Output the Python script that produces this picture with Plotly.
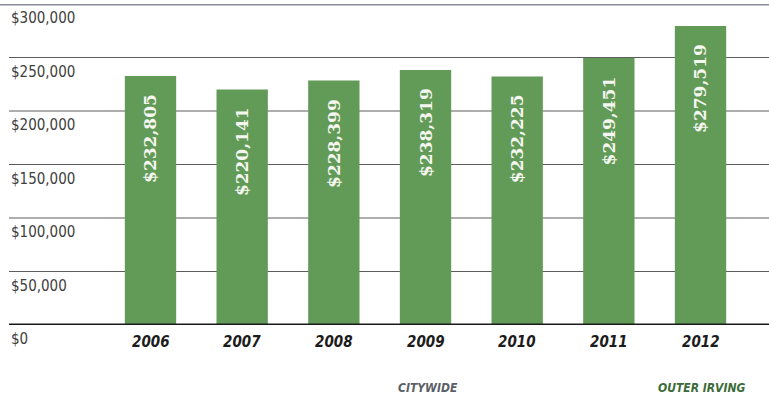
import plotly.graph_objects as go

# Median sale price by year
years = ["2006", "2007", "2008", "2009", "2010", "2011", "2012"]
prices = [232805, 220141, 228399, 238319, 232225, 249451, 279519]

y_ticks = [0, 50000, 100000, 150000, 200000, 250000, 300000]
y_tick_labels = ["$0", "$50,000", "$100,000", "$150,000", "$200,000", "$250,000", "$300,000"]

BAR_GREEN = "#629a57"
GRID = "#5c5c5c"
LABEL_FONT = "DejaVu Sans Condensed, Liberation Sans Narrow, Arial Narrow, sans-serif"

fig = go.Figure()

fig.add_trace(go.Bar(
    x=list(range(len(years))),
    y=prices,
    width=0.56,
    marker=dict(color=BAR_GREEN, line=dict(width=0)),
    hoverinfo="skip",
))

# Horizontal gridlines drawn beneath the bars
for v in y_ticks[1:-1]:
    fig.add_shape(type="line", xref="paper", yref="y", x0=0, x1=1, y0=v, y1=v,
                  line=dict(color=GRID, width=1), layer="below")
# Heavy top rule and baseline
fig.add_shape(type="line", xref="paper", yref="y", x0=-0.02, x1=1.02,
              y0=y_ticks[-1], y1=y_ticks[-1], line=dict(color="#8a8b98", width=3), layer="below")
fig.add_shape(type="line", xref="paper", yref="y", x0=0, x1=1,
              y0=0, y1=0, line=dict(color="#1a1a1a", width=3), layer="above")

# Y-axis labels sit just under their gridlines
for v, lab in zip(y_ticks, y_tick_labels):
    fig.add_annotation(x=0, xref="paper", xanchor="left", y=v, yref="y", yanchor="top",
                       yshift=-3, text=lab, showarrow=False,
                       font=dict(family=LABEL_FONT, size=15, color="#404040"))

# Value labels, rotated, near the top of each bar
for i, v in enumerate(prices):
    fig.add_annotation(x=i, xref="x", y=v, yref="y", yanchor="top", yshift=-16,
                       textangle=-90, text=f"<b>${v:,.0f}</b>", showarrow=False,
                       font=dict(family="DejaVu Serif", size=17, color="#f4f6ef"))

# Year labels under the baseline
for i, yr in enumerate(years):
    fig.add_annotation(x=i, xref="x", y=0, yref="y", yanchor="top", yshift=-6,
                       text=f"<b><i>{yr}</i></b>", showarrow=False,
                       font=dict(family=LABEL_FONT, size=15, color="#1c1c1c"))

# Key labels
fig.add_annotation(x=3, xref="x", y=-0.195, yref="paper", yanchor="middle", xshift=2,
                   text="<b><i>CITYWIDE</i></b>", showarrow=False,
                   font=dict(family=LABEL_FONT, size=12, color="#5b6068"))
fig.add_annotation(x=6, xref="x", y=-0.195, yref="paper", yanchor="middle", xshift=1,
                   text="<b><i>OUTER IRVING</i></b>", showarrow=False,
                   font=dict(family=LABEL_FONT, size=12, color="#3b6b38"))

fig.update_layout(
    width=769, height=396,
    margin=dict(l=9, r=0, t=4, b=71),
    paper_bgcolor="white", plot_bgcolor="white",
    showlegend=False,
    xaxis=dict(range=[-1.5436, 6.747], showgrid=False,
               showticklabels=False, zeroline=False, showline=False, fixedrange=True),
    yaxis=dict(range=[0, 300000], showgrid=False, showticklabels=False,
               zeroline=False, showline=False, fixedrange=True),
)

fig.write_html("out.html")
